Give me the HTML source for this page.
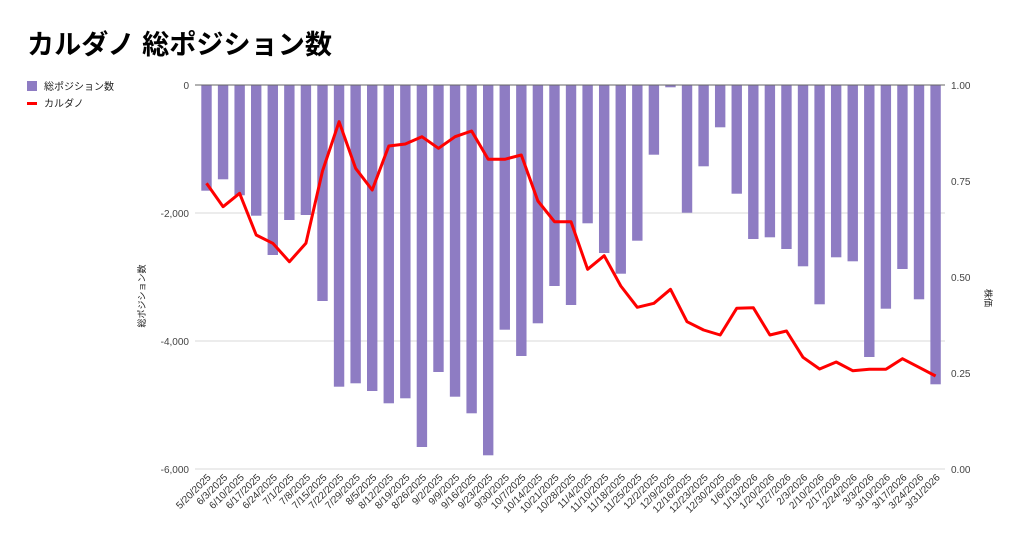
<!DOCTYPE html>
<html><head><meta charset="utf-8"><style>
body{margin:0;background:#fff;}
svg{display:block;font-family:"Liberation Sans","Noto Sans CJK JP",sans-serif;}
</style></head><body>
<svg id="s" width="1024" height="543" xmlns="http://www.w3.org/2000/svg">
<rect width="1024" height="543" fill="#fff"/>
<text x="27" y="54" font-size="27" font-weight="bold" fill="#000" textLength="305" lengthAdjust="spacingAndGlyphs">カルダノ 総ポジション数</text>
<rect x="27" y="81" width="10" height="10" fill="#8e7cc3"/>
<text x="44" y="90" font-size="10" fill="#222">総ポジション数</text>
<rect x="27" y="102" width="10" height="3" fill="#ff0000"/>
<text x="44" y="107" font-size="10" fill="#222">カルダノ</text>
<g stroke="#d9d9d9" stroke-width="1">
<line x1="195" y1="213" x2="945" y2="213"/>
<line x1="195" y1="341" x2="945" y2="341"/>
<line x1="195" y1="469" x2="945" y2="469"/>
</g>
<g font-size="10" fill="#444" text-anchor="end">
<text x="189" y="89">0</text><text x="189" y="217">-2,000</text><text x="189" y="345">-4,000</text><text x="189" y="473">-6,000</text>
</g>
<g font-size="10" fill="#444">
<text x="951" y="89">1.00</text><text x="951" y="185">0.75</text><text x="951" y="281">0.50</text><text x="951" y="377">0.25</text><text x="951" y="473">0.00</text>
</g>
<text transform="translate(145,296) rotate(-90)" font-size="9" fill="#222" text-anchor="middle">総ポジション数</text>
<text transform="translate(985,298) rotate(90)" font-size="9" fill="#222" text-anchor="middle">株価</text>
<g id="bars" fill="#8e7cc3"></g>
<line x1="195" y1="85" x2="945" y2="85" stroke="#666" stroke-width="1"/>
<polyline id="ln" fill="none" stroke="#ff0000" stroke-width="3" stroke-linejoin="round"/>
<g id="lbl" font-size="10" fill="#333" text-anchor="end"></g>
</svg>
<script>
var bb=[190.7,179.3,195.3,215.7,255,220,215,301,386.7,383.3,391,403.3,398.3,447,372,396.7,413.3,455.3,329.7,356,323.3,286,305,223.3,253,273.7,240.7,154.7,87.3,212.7,166.3,127.3,193.7,239,237.3,249,266.3,304.3,257.3,261.3,357,308.7,269,299.3,384.3];
var labs="5/20/2025 6/3/2025 6/10/2025 6/17/2025 6/24/2025 7/1/2025 7/8/2025 7/15/2025 7/22/2025 7/29/2025 8/5/2025 8/12/2025 8/19/2025 8/26/2025 9/2/2025 9/9/2025 9/16/2025 9/23/2025 9/30/2025 10/7/2025 10/14/2025 10/21/2025 10/28/2025 11/4/2025 11/10/2025 11/18/2025 11/25/2025 12/2/2025 12/9/2025 12/16/2025 12/23/2025 12/30/2025 1/6/2026 1/13/2026 1/20/2026 1/27/2026 2/3/2026 2/10/2026 2/17/2026 2/24/2026 3/3/2026 3/10/2026 3/17/2026 3/24/2026 3/31/2026".split(" ");
var ns="http://www.w3.org/2000/svg",b=document.getElementById("bars"),l=document.getElementById("lbl"),pts=[];
for(var i=0;i<45;i++){var x=206.5+i*16.57;
var r=document.createElementNS(ns,"rect");r.setAttribute("x",x-5.2);r.setAttribute("y",85);r.setAttribute("width",10.4);r.setAttribute("height",bb[i]-85);b.appendChild(r);
var t=document.createElementNS(ns,"text");t.setAttribute("transform","translate("+(x+5)+",478) rotate(-45)");t.textContent=labs[i];l.appendChild(t);}
var ly2=[183.3,206.7,193.3,235,243.3,261.7,243.3,171,121.7,168.3,190,146,144,136.7,148.3,136.7,131,159.3,159.3,155,201,221.7,221.7,269.3,255.7,286,307.3,303.3,289.3,321.7,330,335,308.3,307.7,335,331,357.3,369,362,370.7,369.3,369.3,358.7,367.3,376];
for(var i=0;i<45;i++)pts.push((206.5+i*16.57).toFixed(1)+","+ly2[i]);
document.getElementById("ln").setAttribute("points",pts.join(" "));
</script>
</body></html>
